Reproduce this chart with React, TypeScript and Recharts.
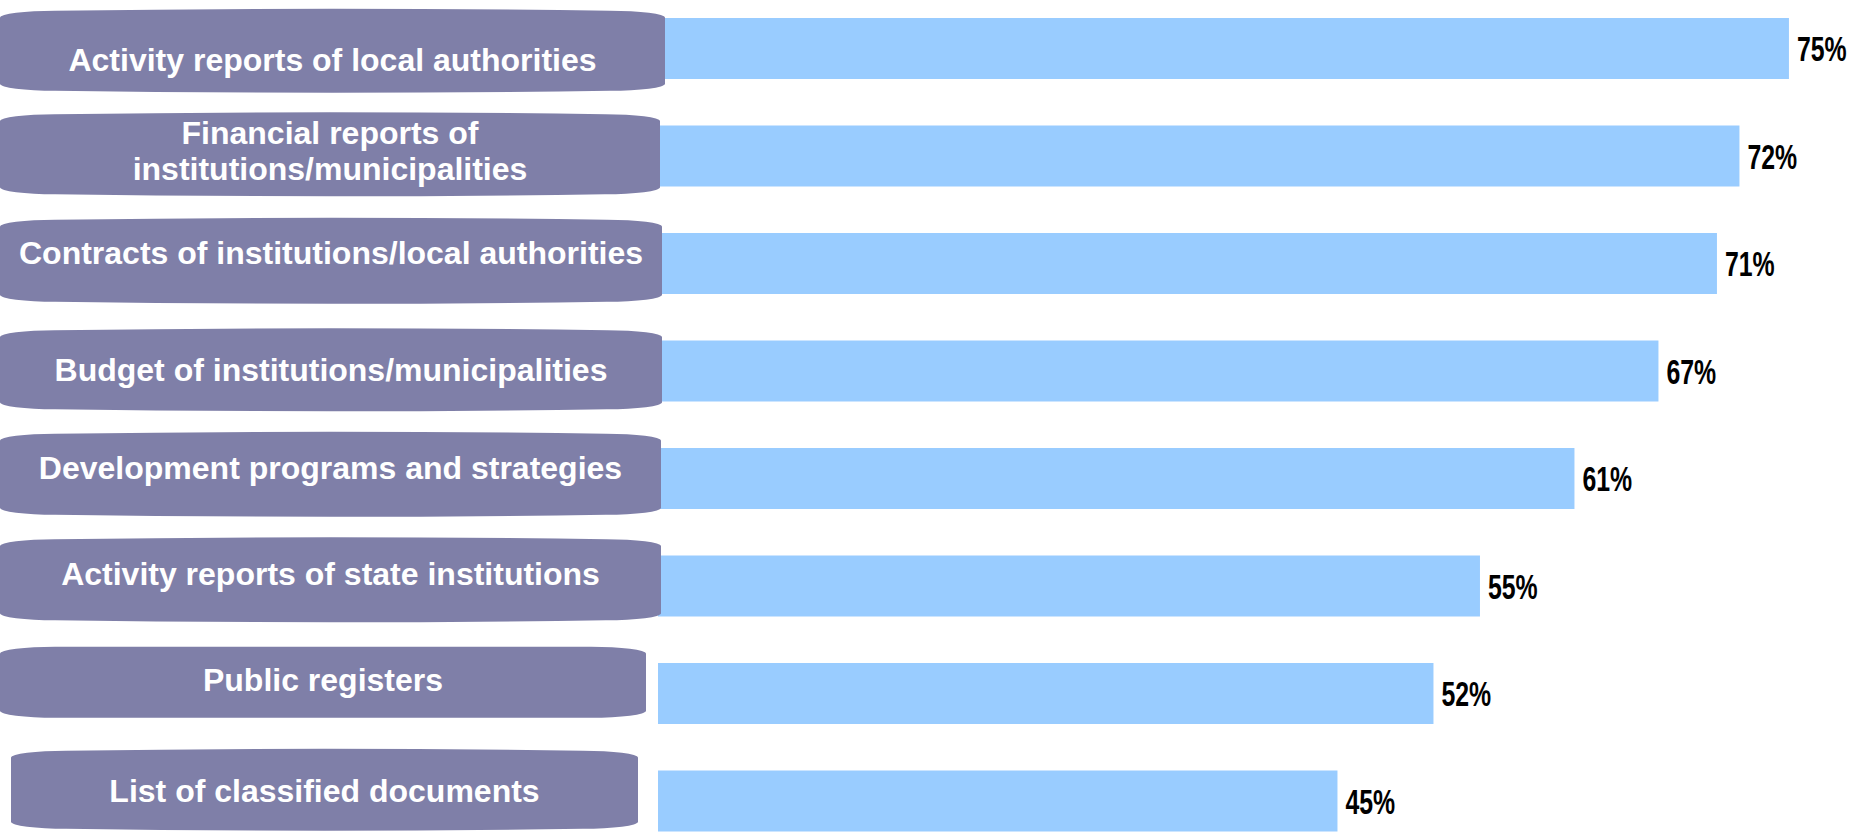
import React from "react";
import { BarChart, Bar, XAxis, YAxis, LabelList } from "recharts";

// ---- data ----
const categories = [
  "Activity reports of local authorities",
  "Financial reports of\ninstitutions/municipalities",
  "Contracts of institutions/local authorities",
  "Budget of institutions/municipalities",
  "Development programs and strategies",
  "Activity reports of state institutions",
  "Public registers",
  "List of classified documents",
];
const values = [75.4, 72.1, 70.6, 66.7, 61.1, 54.8, 51.7, 45.3];

const data = categories.map((category, i) => ({ category, value: values[i] }));

// ---- style (label boxes) ----
const BOX_FILL = "#7F7FA8";
const BAR_FILL = "#99CCFF";
const boxLeft = [0, 0, 0, 0, 0, 0, 0, 11];
const boxRight = [665, 660, 662, 662, 661, 661, 646, 638];
const boxShift = [2, -2, -3, -1.5, -4.5, -6.5, -11.5, -11.5];
const boxHeight = [84, 84, 86, 83, 85, 85, 71, 82];
const boxBulge = [9, 9, 9, 9, 9, 9, 7, 9];
const textShift = [9, -4, -8, 0, -7, -6, -3, 1];

const FONT = "'Liberation Sans', Arial, Helvetica, sans-serif";

function barrelPath(x0: number, x1: number, c: number, h: number, b: number) {
  const yT = c - h / 2 + b;
  const yB = c + h / 2 - b;
  const rx = 55;
  const ry = Math.min(7, b);
  const mid = (x0 + x1) / 2;
  const extra = b - ry;
  return [
    `M ${x0} ${yB}`,
    `L ${x0} ${yT}`,
    `A ${rx} ${ry} 0 0 1 ${x0 + rx} ${yT - ry}`,
    `Q ${mid} ${yT - ry - 2 * extra} ${x1 - rx} ${yT - ry}`,
    `A ${rx} ${ry} 0 0 1 ${x1} ${yT}`,
    `L ${x1} ${yB}`,
    `A ${rx} ${ry} 0 0 1 ${x1 - rx} ${yB + ry}`,
    `Q ${mid} ${yB + ry + 2 * extra} ${x0 + rx} ${yB + ry}`,
    `A ${rx} ${ry} 0 0 1 ${x0} ${yB}`,
    "Z",
  ].join(" ");
}

const CategoryTick = (props: any) => {
  const { y, payload } = props;
  const i = categories.indexOf(payload.value);
  if (i < 0) return null;
  const cy = y + boxShift[i];
  const x0 = boxLeft[i];
  const x1 = boxRight[i];
  const cx = (x0 + x1) / 2;
  const lines = String(payload.value).split("\n");
  const lh = 36;
  return (
    <g>
      <path d={barrelPath(x0, x1, cy, boxHeight[i], boxBulge[i])} fill={BOX_FILL} />
      {lines.map((ln, k) => {
        const lc = cy + textShift[i] + (k - (lines.length - 1) / 2) * lh;
        return (
          <text
            key={k}
            x={cx}
            y={lc + 11.5}
            textAnchor="middle"
            fill="#FFFFFF"
            fontFamily={FONT}
            fontWeight="bold"
            fontSize={32}
          >
            {ln}
          </text>
        );
      })}
    </g>
  );
};

const PctLabel = (props: any) => {
  const { x, y, width, height, value } = props;
  const tx = Number(x) + Number(width) + 8;
  const ty = Number(y) + Number(height) / 2 + 12.5;
  return (
    <text
      transform={`translate(${tx},${ty}) scale(0.71,1)`}
      x={0}
      y={0}
      fill="#000000"
      fontFamily={FONT}
      fontWeight="bold"
      fontSize={35}
    >
      {`${Math.round(Number(value))}%`}
    </text>
  );
};

export default function App() {
  return (
    <div
      style={{
        position: "absolute",
        left: 0,
        top: 0,
        width: 1853,
        height: 834,
        overflow: "hidden",
        background: "#FFFFFF",
      }}
    >
      <div style={{ position: "relative", top: -5 }}>
        <BarChart
          layout="vertical"
          width={1853}
          height={860}
          data={data}
          margin={{ top: 0, right: 0, bottom: 0, left: 0 }}
          barCategoryGap={0}
        >
          <XAxis type="number" domain={[0, 79.67]} hide allowDataOverflow />
          <Bar dataKey="value" fill={BAR_FILL} barSize={61} isAnimationActive={false}>
            <LabelList dataKey="value" content={PctLabel} />
          </Bar>
          <YAxis
            type="category"
            dataKey="category"
            width={658}
            axisLine={false}
            tickLine={false}
            interval={0}
            tick={CategoryTick}
          />
        </BarChart>
      </div>
    </div>
  );
}
